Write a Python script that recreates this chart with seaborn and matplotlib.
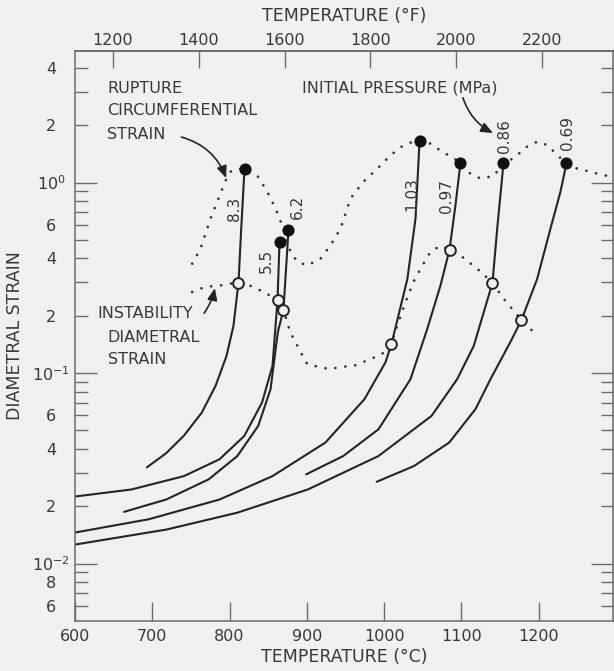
import matplotlib
matplotlib.use("Agg")
import matplotlib.pyplot as plt
from matplotlib.ticker import FixedLocator, FuncFormatter
import seaborn as sns

# ---------------------------------------------------------------- data
# Initial pressure (MPa) of each burst test
pressure_labels = ["8.3", "5.5", "6.2", "1.03", "0.97", "0.86", "0.69"]

# Diametral strain history of each test: temperature (°C) and strain
temp_83 = [693, 718, 741, 764, 782, 796, 805, 811.5, 815, 819.3]
strain_83 = [0.032, 0.038, 0.047, 0.062, 0.086, 0.123, 0.177, 0.298, 0.57, 1.18]
temp_55 = [600, 673, 741, 787, 819, 842, 855.5, 862, 864.6]
strain_55 = [0.0225, 0.0245, 0.0288, 0.0353, 0.0468, 0.0701, 0.109, 0.242, 0.49]
temp_62 = [663.5, 718, 773, 810, 837, 853, 862.4, 869.7, 876.2]
strain_62 = [0.0187, 0.0217, 0.0277, 0.0367, 0.0528, 0.0824, 0.164, 0.215, 0.566]
temp_103 = [600, 695.5, 787, 855.5, 924, 974.5, 1001.7, 1009.4, 1030, 1040.5, 1044.4, 1045.7]
strain_103 = [0.01456, 0.0171, 0.0217, 0.0288, 0.0432, 0.073, 0.114, 0.142, 0.312, 0.646, 1.29, 1.66]
temp_097 = [899, 947, 992.6, 1034, 1055.6, 1072.8, 1084.5, 1092.2, 1098.7]
strain_097 = [0.0294, 0.0367, 0.0507, 0.0929, 0.170, 0.288, 0.444, 0.76, 1.27]
temp_086 = [600, 718.4, 809.8, 901.2, 992.6, 1061.2, 1094.4, 1115.9, 1140.1, 1146.2, 1154.3]
strain_086 = [0.01259, 0.0151, 0.0185, 0.0245, 0.0367, 0.0596, 0.0929, 0.139, 0.298, 0.573, 1.26]
temp_069 = [990.4, 1038.4, 1084.1, 1118.1, 1137.5, 1163.4, 1177.6, 1197.9, 1215.1, 1228.1, 1235.8]
strain_069 = [0.0269, 0.0325, 0.0432, 0.0647, 0.0929, 0.146, 0.19, 0.312, 0.573, 0.897, 1.26]

# Rupture (filled) and instability (open) points, same order as pressure_labels
rupture_temp = [819.3, 864.6, 876.2, 1045.7, 1098.7, 1154.3, 1235.8]
rupture_strain = [1.18, 0.49, 0.566, 1.66, 1.27, 1.26, 1.26]
instab_temp = [811.5, 862.0, 869.7, 1009.4, 1084.5, 1140.1, 1177.6]
instab_strain = [0.298, 0.242, 0.215, 0.142, 0.444, 0.298, 0.19]

# Rupture circumferential strain trend
rupt_trend_temp = [751.6, 762.4, 775.3, 785.6, 794.7, 801.2, 809.8, 819.3, 835.7, 848.6,
                   859.4, 868.0, 878.8, 887.5, 900.4, 917.6, 930.5, 943.5, 956.4, 973.2,
                   990.9, 1008.2, 1025.0, 1037.9, 1045.7, 1059.9, 1072.8, 1085.8, 1098.7,
                   1111.6, 1124.6, 1141.4, 1154.3, 1167.2, 1185.4, 1198.3, 1211.3, 1224.2,
                   1235.8, 1250.1, 1266.9, 1283.7, 1296.0]
rupt_trend_strain = [0.375, 0.45, 0.647, 0.824, 1.02, 1.14, 1.18, 1.18, 1.09, 0.897,
                     0.73, 0.596, 0.433, 0.384, 0.367, 0.398, 0.468, 0.573, 0.824, 1.01,
                     1.18, 1.39, 1.57, 1.64, 1.66, 1.60, 1.47, 1.37, 1.27,
                     1.11, 1.05, 1.08, 1.26, 1.34, 1.55, 1.64, 1.57, 1.39,
                     1.26, 1.18, 1.14, 1.09, 1.08]

# Instability diametral strain trend
inst_trend_temp = [751.6, 768.8, 785.6, 798.6, 811.5, 827.0, 843.8, 862.0, 869.7, 878.4,
                   891.8, 900.8, 928.7, 947.0, 960.3, 983.6, 997.3, 1009.4, 1016.8, 1027.6,
                   1037.9, 1047.0, 1059.9, 1072.8, 1084.5, 1098.7, 1120.3, 1140.1, 1154.7,
                   1165.6, 1177.6, 1189.3, 1193.6]
inst_trend_strain = [0.266, 0.284, 0.287, 0.294, 0.298, 0.287, 0.267, 0.242, 0.215, 0.164,
                     0.129, 0.111, 0.105, 0.108, 0.109, 0.119, 0.126, 0.142, 0.177, 0.236,
                     0.301, 0.353, 0.433, 0.466, 0.444, 0.414, 0.353, 0.298, 0.245,
                     0.217, 0.19, 0.17, 0.164]

# Axis ticks
xticks_c = [600, 700, 800, 900, 1000, 1100, 1200]
xticks_f = [1200, 1400, 1600, 1800, 2000, 2200]
ytick_decades = [0.01, 0.1, 1.0]
ytick_decade_text = ["$10^{-2}$", "$10^{-1}$", "$10^{0}$"]
ytick_label_values = [4, 2, 0.6, 0.4, 0.2, 0.06, 0.04, 0.02, 0.008, 0.006]
ytick_label_text = ["4", "2", "6", "4", "2", "6", "4", "2", "8", "6"]

# ---------------------------------------------------------------- style
BG = "#f0f0ee"
INK = "#242424"
TXT = "#383838"
AXC = "#6c6c6c"
NOTE_SIZE = 11.5
TICK_SIZE = 11.5
LABEL_SIZE = 12.5

sns.set_theme(style="ticks")
plt.rcParams["font.family"] = ["DejaVu Sans"]
plt.rcParams["mathtext.fontset"] = "dejavusans"

fig = plt.figure(figsize=(6.14, 6.71), dpi=100, facecolor=BG)
ax = fig.add_axes([75 / 614, 50 / 671, 538 / 614, 570 / 671], facecolor=BG)

curves = [(temp_83, strain_83), (temp_55, strain_55), (temp_62, strain_62),
          (temp_103, strain_103), (temp_097, strain_097), (temp_086, strain_086),
          (temp_069, strain_069)]
for t, s in curves:
    sns.lineplot(x=t, y=s, ax=ax, sort=False, color=INK, linewidth=1.5, estimator=None)

dot_style = dict(linestyle=(0, (0.01, 3.6)), dash_capstyle="round", linewidth=2.0,
                 color="#333333")
sns.lineplot(x=rupt_trend_temp, y=rupt_trend_strain, ax=ax, sort=False, estimator=None,
             **dot_style)
sns.lineplot(x=inst_trend_temp, y=inst_trend_strain, ax=ax, sort=False, estimator=None,
             **dot_style)

sns.scatterplot(x=rupture_temp, y=rupture_strain, ax=ax, s=60, color="#111111",
                edgecolor="#111111", linewidth=1.0, zorder=5)
sns.scatterplot(x=instab_temp, y=instab_strain, ax=ax, s=60, color=BG,
                edgecolor="#222222", linewidth=1.4, zorder=5)

ax.set_yscale("log")
ax.set_xlim(600, 1296)
ax.set_ylim(5e-3, 4.9)

# rotated pressure labels next to each curve
label_anchor_temp = [806.3, 847.7, 887.8, 1035.3, 1080.6, 1155.6, 1237.1]
label_anchor_strain = [0.73, 0.389, 0.748, 0.875, 0.844, 1.746, 1.83]
for lab, t, s in zip(pressure_labels, label_anchor_temp, label_anchor_strain):
    ax.text(t, s, lab, rotation=90, ha="center", va="center", fontsize=11, color=TXT)

# --- axes: bottom °C
ax.set_xticks(xticks_c)
ax.set_xticklabels([str(v) for v in xticks_c])
ax.tick_params(axis="x", which="both", direction="in", length=14, width=1.0,
               color=AXC, labelsize=TICK_SIZE, labelcolor=TXT, pad=6, top=False)
ax.set_xlabel("TEMPERATURE (°C)", fontsize=LABEL_SIZE, color=TXT, labelpad=3)

# --- axes: log strain, ticks on both sides
minor_vals = [k * 10.0 ** e for e in (-3, -2, -1, 0) for k in range(2, 10)
              if 5.5e-3 <= k * 10.0 ** e <= 4.9]
ax.yaxis.set_major_locator(FixedLocator(ytick_decades))
ax.yaxis.set_minor_locator(FixedLocator(minor_vals))
ax.yaxis.set_major_formatter(FuncFormatter(
    lambda v, p: next((t for d, t in zip(ytick_decades, ytick_decade_text)
                       if abs(v / d - 1) < 1e-6), "")))
ax.yaxis.set_minor_formatter(FuncFormatter(
    lambda v, p: next((t for d, t in zip(ytick_label_values, ytick_label_text)
                       if abs(v / d - 1) < 1e-6), "")))
ax.tick_params(axis="y", which="major", direction="in", length=16, width=1.0,
               color=AXC, right=True, labelsize=TICK_SIZE, labelcolor=TXT, pad=17)
ax.tick_params(axis="y", which="minor", direction="in", length=9, width=1.0,
               color=AXC, right=True, labelsize=TICK_SIZE, labelcolor=TXT, pad=17)
for lbl in ax.get_yticklabels(which="both"):
    lbl.set_horizontalalignment("center")
ax.set_ylabel("DIAMETRAL STRAIN", fontsize=LABEL_SIZE, color=TXT)
ax.yaxis.set_label_coords(-0.094, 0.5)

for sp in ax.spines.values():
    sp.set_color(AXC)
    sp.set_linewidth(1.1)
    sp.set_visible(True)

# --- axes: top °F
sec = ax.secondary_xaxis("top", functions=(lambda c: c * 9 / 5 + 32,
                                           lambda f: (f - 32) * 5 / 9))
sec.set_xticks(xticks_f)
sec.set_xticklabels([str(v) for v in xticks_f])
sec.tick_params(direction="in", length=12, width=1.0, color=AXC, labelsize=TICK_SIZE,
                labelcolor=TXT, pad=2)
sec.spines["top"].set_color(AXC)
sec.set_xlabel("TEMPERATURE (°F)", fontsize=LABEL_SIZE, color=TXT, labelpad=9)

# --- annotations
notes = [("RUPTURE", 0.0595, 0.935), ("CIRCUMFERENTIAL", 0.0595, 0.896),
         ("STRAIN", 0.0595, 0.854), ("INITIAL PRESSURE (MPa)", 0.422, 0.935),
         ("INSTABILITY", 0.041, 0.540), ("DIAMETRAL", 0.061, 0.498),
         ("STRAIN", 0.061, 0.458)]
for txt, x, y in notes:
    ax.text(x, y, txt, transform=ax.transAxes, fontsize=NOTE_SIZE, color=TXT,
            va="center")

arrow = dict(arrowstyle="-|>,head_length=0.6,head_width=0.25", color=INK, lw=1.2,
             shrinkA=0, shrinkB=0)
ax.annotate("", xy=(0.281, 0.777), xytext=(0.198, 0.849), xycoords="axes fraction",
            arrowprops=dict(connectionstyle="arc3,rad=-0.25", **arrow))
ax.annotate("", xy=(0.260, 0.584), xytext=(0.240, 0.540), xycoords="axes fraction",
            arrowprops=dict(connectionstyle="arc3,rad=0.1", **arrow))
ax.annotate("", xy=(0.777, 0.856), xytext=(0.721, 0.918), xycoords="axes fraction",
            arrowprops=dict(connectionstyle="arc3,rad=0.2", **arrow))

fig.savefig("out.png", dpi=100, facecolor=BG)
